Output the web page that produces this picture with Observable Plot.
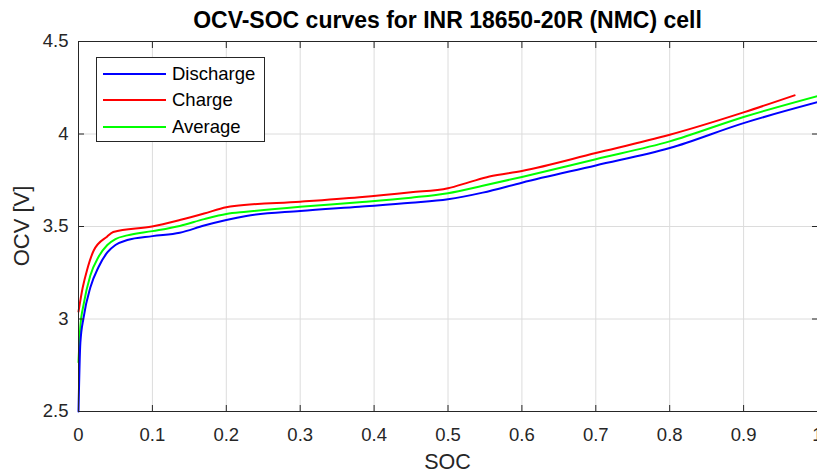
<!DOCTYPE html>
<html>
<head>
<meta charset="utf-8">
<script src="https://cdn.jsdelivr.net/npm/d3@7"></script>
<script src="https://cdn.jsdelivr.net/npm/@observablehq/plot@0.6"></script>
<style>
  html, body { margin: 0; padding: 0; background: #fff; }
  #wrap { position: relative; width: 817px; height: 475px; overflow: hidden; font-family: "Liberation Sans", Arial, sans-serif; color: #262626; }
  #title { position: absolute; left: 78px; width: 739px; top: 7px; text-align: center; font-weight: bold; font-size: 23px; color: #000; }
  #xlabel { position: absolute; left: 78px; width: 739px; top: 450px; text-align: center; font-size: 21.5px; }
  #ylabel { position: absolute; left: 22px; top: 226px; transform: translate(-50%, -50%) rotate(-90deg); font-size: 22px; white-space: nowrap; }
  #legend { position: absolute; left: 96px; top: 57px; width: 169px; height: 85px; border: 1px solid #262626; background: #fff; box-sizing: border-box; }
  .row { position: absolute; left: 0; height: 20px; display: flex; align-items: center; font-size: 18.5px; color: #000; }
  .sw { width: 63px; height: 2px; margin-left: 6px; margin-right: 6px; }
</style>
</head>
<body>
<div id="wrap">
  <div id="chart"></div>
  <div id="title">OCV-SOC curves for INR 18650-20R (NMC) cell</div>
  <div id="ylabel">OCV [V]</div>
  <div id="xlabel">SOC</div>
  <div id="legend"></div>
</div>
<script>
// ---- data ----
const socDischarge = [0, 0.0025, 0.007, 0.016, 0.027, 0.039, 0.05, 0.066, 0.1, 0.137, 0.17, 0.2, 0.227, 0.3, 0.38, 0.45, 0.5, 0.547, 0.6, 0.7, 0.8, 0.9, 1.0];
const ocvDischarge = [2.5, 2.87, 3.01, 3.17, 3.28, 3.36, 3.40, 3.427, 3.448, 3.466, 3.505, 3.535, 3.557, 3.584, 3.607, 3.628, 3.647, 3.683, 3.737, 3.83, 3.924, 4.059, 4.172];

const socCharge = [0, 0.0057, 0.0115, 0.0206, 0.0386, 0.047, 0.0995, 0.137, 0.17, 0.2, 0.211, 0.3, 0.38, 0.45, 0.5, 0.529, 0.556, 0.6, 0.7, 0.8, 0.9, 0.969];
const ocvCharge = [3.04, 3.17, 3.264, 3.37, 3.445, 3.47, 3.50, 3.535, 3.57, 3.604, 3.611, 3.634, 3.658, 3.685, 3.707, 3.74, 3.77, 3.80, 3.897, 3.996, 4.117, 4.209];

const socAverage = [0, 0.0025, 0.007, 0.016, 0.027, 0.039, 0.05, 0.066, 0.1, 0.137, 0.17, 0.2, 0.227, 0.3, 0.38, 0.45, 0.5, 0.547, 0.6, 0.7, 0.8, 0.9, 1.0];
const ocvAverage = [2.767, 2.96, 3.08, 3.235, 3.335, 3.40, 3.432, 3.452, 3.475, 3.503, 3.54, 3.568, 3.58, 3.607, 3.631, 3.656, 3.68, 3.72, 3.768, 3.864, 3.96, 4.092, 4.205];

const seriesNames = ["Discharge", "Charge", "Average"];
const seriesColors = ["#0000ff", "#ff0000", "#00ff00"];

const xTicks = [0, 0.1, 0.2, 0.3, 0.4, 0.5, 0.6, 0.7, 0.8, 0.9, 1];
const yTicks = [2.5, 3, 3.5, 4, 4.5];
const xTickLabels = ["0", "0.1", "0.2", "0.3", "0.4", "0.5", "0.6", "0.7", "0.8", "0.9", "1"];
const yTickLabels = ["2.5", "3", "3.5", "4", "4.5"];

// ---- build tables ----
const toRows = (xs, ys) => xs.map((x, i) => ({soc: x, ocv: ys[i]}));
const dDis = toRows(socDischarge, ocvDischarge);
const dChg = toRows(socCharge, ocvCharge);
const dAvg = toRows(socAverage, ocvAverage);

const fx = d => xTickLabels[xTicks.indexOf(d)];
const fy = d => yTickLabels[yTicks.indexOf(d)];

const chart = Plot.plot({
  width: 817,
  height: 475,
  marginTop: 41,
  marginBottom: 64,
  marginLeft: 78,
  marginRight: 0,
  style: {fontFamily: "'Liberation Sans', Arial, sans-serif", fontSize: "18.5px", color: "#262626", background: "#fff"},
  x: {domain: [0, 1]},
  y: {domain: [2.5, 4.5]},
  marks: [
    Plot.gridX(xTicks, {stroke: "#dcdcdc", strokeOpacity: 1}),
    Plot.gridY(yTicks, {stroke: "#dcdcdc", strokeOpacity: 1}),
    Plot.line(dChg, {x: "soc", y: "ocv", stroke: seriesColors[1], strokeWidth: 2, curve: "monotone-x"}),
    Plot.line(dAvg, {x: "soc", y: "ocv", stroke: seriesColors[2], strokeWidth: 2, curve: "monotone-x"}),
    Plot.line(dDis, {x: "soc", y: "ocv", stroke: seriesColors[0], strokeWidth: 2, curve: "monotone-x"}),
    Plot.axisX(xTicks, {anchor: "bottom", tickSize: 0, tickPadding: 16, tickFormat: fx, label: null, fill: "#262626"}),
    Plot.axisY(yTicks, {anchor: "left", tickSize: 0, tickPadding: 10, tickFormat: fy, label: null, fill: "#262626"}),
    Plot.axisX(xTicks, {anchor: "bottom", tickSize: -6, tickFormat: () => "", label: null, stroke: "#262626"}),
    Plot.axisX(xTicks, {anchor: "top", tickSize: -6, tickFormat: () => "", label: null, stroke: "#262626"}),
    Plot.axisY(yTicks, {anchor: "left", tickSize: -6, tickFormat: () => "", label: null, stroke: "#262626"}),
    Plot.axisY(yTicks, {anchor: "right", tickSize: -6, tickFormat: () => "", label: null, stroke: "#262626"}),
    Plot.frame({stroke: "#262626", strokeWidth: 1})
  ]
});
document.getElementById("chart").appendChild(chart);

// legend
const legend = document.getElementById("legend");
const rowTops = [6, 32, 59];
seriesNames.forEach((name, i) => {
  const row = document.createElement("div");
  row.className = "row";
  row.style.top = rowTops[i] + "px";
  const sw = document.createElement("div");
  sw.className = "sw";
  sw.style.background = seriesColors[i];
  const label = document.createElement("span");
  label.textContent = name;
  row.appendChild(sw);
  row.appendChild(label);
  legend.appendChild(row);
});
</script>
</body>
</html>
